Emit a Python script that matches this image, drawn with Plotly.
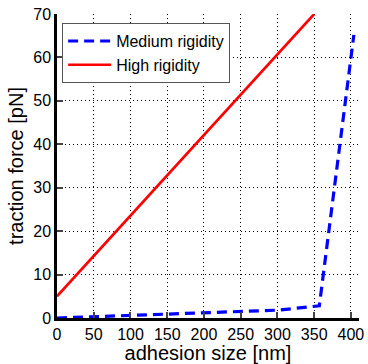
import plotly.graph_objects as go

medium_x = [0, 50, 100, 150, 200, 250, 300, 357, 404]
medium_y = [0, 0.3, 0.6, 0.9, 1.2, 1.5, 1.8, 2.8, 65.2]
high_x = [0, 350]
high_y = [5, 70]

x_ticks = [0, 50, 100, 150, 200, 250, 300, 350, 400]
y_ticks = [0, 10, 20, 30, 40, 50, 60, 70]

fig = go.Figure()
fig.add_trace(go.Scatter(x=medium_x, y=medium_y, mode="lines", name="Medium rigidity",
                         line=dict(color="#0000ff", width=3.2, dash="10px,6px")))
fig.add_trace(go.Scatter(x=high_x, y=high_y, mode="lines", name="High rigidity",
                         line=dict(color="#ff0000", width=2.6)))

font = "Liberation Sans"
fig.update_layout(
    width=368, height=364,
    margin=dict(l=57, r=4, t=14, b=46),
    paper_bgcolor="white", plot_bgcolor="white",
    font=dict(family=font, color="black", size=16),
    showlegend=True,
    legend=dict(x=0.017, y=0.97, xanchor="left", yanchor="top",
                bgcolor="white", bordercolor="#555555", borderwidth=1,
                font=dict(size=16, family=font), tracegroupgap=0, itemwidth=43),
    xaxis=dict(range=[0, 411], tickvals=x_ticks, ticks="inside", ticklen=6, tickwidth=2,
               showline=True, linecolor="black", linewidth=2.5,
               showgrid=True, gridcolor="black", griddash="1px,3px", gridwidth=1,
               zeroline=False, tickfont=dict(size=16, family=font),
               ticklabeloverflow="allow",
               title=dict(text="adhesion size [nm]", font=dict(size=20, family=font), standoff=2)),
    yaxis=dict(range=[0, 70], tickvals=y_ticks, ticks="inside", ticklen=6, tickwidth=2,
               showline=True, linecolor="black", linewidth=2.5,
               showgrid=True, gridcolor="black", griddash="1px,3px", gridwidth=1,
               zeroline=False, tickfont=dict(size=16, family=font),
               ticklabeloverflow="allow",
               title=dict(text="traction force [pN]", font=dict(size=20, family=font), standoff=5)),
)
fig.write_html("out.html")
